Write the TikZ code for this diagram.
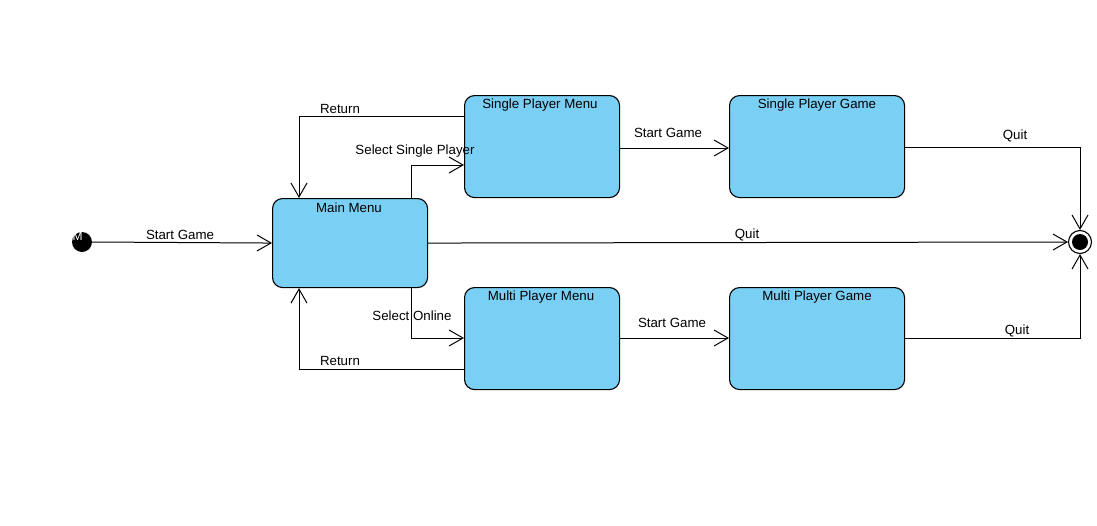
\documentclass[tikz,border=0pt]{standalone}
\usepackage{fontspec}
\setmainfont{Liberation Sans}
\usetikzlibrary{arrows.meta,calc}
\definecolor{stfill}{RGB}{122,207,245}
\begin{document}
\begin{tikzpicture}[x=1pt,y=-1pt,
  font=\fontsize{13.3}{15}\selectfont,
  state/.style={draw=black,line width=1.1pt,fill=stfill,rounded corners=10pt,anchor=north west,inner sep=0pt},
  arr/.style={line width=1pt,-{Straight Barb[length=14pt,width=16pt,line width=1pt]}},
  lbl/.style={inner sep=1pt}]
\useasboundingbox (0,0) rectangle (1097,525);
% states
\node[state,minimum width=155pt,minimum height=89pt] (mm) at (272,198) {};
\node[state,minimum width=155pt,minimum height=102pt] (spm) at (464,95) {};
\node[state,minimum width=175pt,minimum height=102pt] (spg) at (729,95) {};
\node[state,minimum width=155pt,minimum height=102pt] (mpm) at (464,287) {};
\node[state,minimum width=175pt,minimum height=102pt] (mpg) at (729,287) {};
\node[lbl] (tmm) at (349,208) {Main Menu};
\node[lbl] (tspm) at (540,105.5) {Single Player Menu};
\node[lbl] (tspg) at (817,105.5) {Single Player Game};
\node[lbl] (tmpm) at (541,297.5) {Multi Player Menu};
\node[lbl] (tmpg) at (817,297.5) {Multi Player Game};
% initial and final
\node[circle,fill=black,minimum size=20pt,inner sep=0pt] (init) at (82,242) {};
\node[text=white,font=\fontsize{12}{12}\selectfont,inner sep=0pt] (initm) at (77.5,236.5) {M};
\node[circle,draw=black,line width=1.1pt,fill=white,minimum size=23pt,inner sep=0pt] (fin) at (1080,242) {};
\fill[black] (fin.center) circle (8pt);
% transitions
\draw[arr] (init.east) -- (mm.west);
\node[lbl] (l1) at (180,235) {Start Game};
\draw[arr] (mm.east) -- (fin.west);
\node[lbl] (l2) at (747,235) {Quit};
\draw[arr] (spm.west |- 0,116) -| (mm.north west -| 299,0);
\node[lbl] (l3) at (340,108.5) {Return};
\draw[arr] (mm.north west -| 411,0) |- (spm.west |- 0,165);
\node[lbl] (l4) at (415,151.5) {Select Single Player};
\draw[arr] (spm.east |- 0,148) -- (spg.west |- 0,148);
\node[lbl] (l5) at (668,132.5) {Start Game};
\draw[arr] (spg.east |- 0,147) -| (fin.north);
\node[lbl] (l6) at (1015,135.5) {Quit};
\draw[arr] (mm.south west -| 411,0) |- (mpm.west |- 0,338);
\node[lbl] (l7) at (412,315.5) {Select Online};
\draw[arr] (mpm.west |- 0,369) -| (mm.south west -| 299,0);
\node[lbl] (l8) at (340,360.5) {Return};
\draw[arr] (mpm.east |- 0,338) -- (mpg.west |- 0,338);
\node[lbl] (l9) at (672,322.5) {Start Game};
\draw[arr] (mpg.east |- 0,338) -| (fin.south);
\node[lbl] (l10) at (1017,330.5) {Quit};
\end{tikzpicture}
\end{document}
